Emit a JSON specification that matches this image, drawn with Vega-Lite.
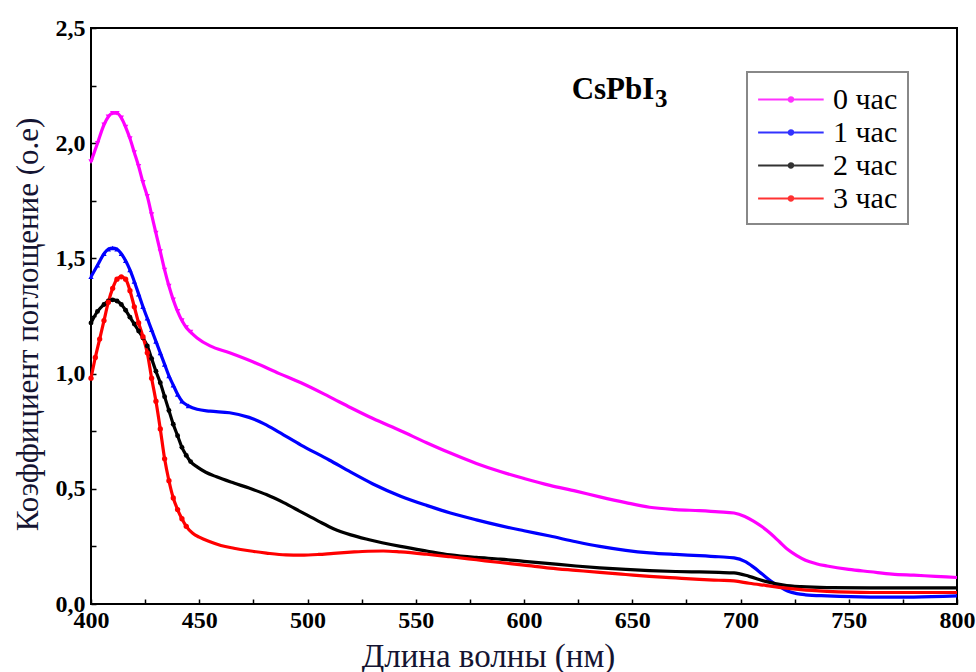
{
  "$schema": "https://vega.github.io/schema/vega-lite/v6.json",
  "width": 866,
  "height": 576,
  "autosize": {"type": "none"},
  "padding": {"left": 91, "top": 28, "right": 19, "bottom": 68},
  "background": "white",
  "config": {
    "view": {"stroke": "black", "strokeWidth": 2},
    "axis": {
      "domain": false,
      "grid": false,
      "tickColor": "black",
      "tickWidth": 1.5,
      "tickSize": -5,
      "labelFont": "Liberation Serif",
      "labelFontWeight": "bold",
      "labelFontSize": 24,
      "labelColor": "black",
      "titleFont": "Liberation Serif",
      "titleFontWeight": "normal"
    }
  },
  "datasets": {
    "curves": [
      {"x":400,"v":1.92,"s":"0 час"},{"x":403,"v":2.00,"s":"0 час"},{"x":406,"v":2.08,"s":"0 час"},{"x":408,"v":2.115,"s":"0 час"},{"x":410,"v":2.13,"s":"0 час"},{"x":412,"v":2.13,"s":"0 час"},{"x":414,"v":2.11,"s":"0 час"},{"x":416,"v":2.07,"s":"0 час"},{"x":418,"v":2.02,"s":"0 час"},{"x":420,"v":1.96,"s":"0 час"},{"x":422,"v":1.90,"s":"0 час"},{"x":424,"v":1.83,"s":"0 час"},{"x":426,"v":1.77,"s":"0 час"},{"x":428,"v":1.69,"s":"0 час"},{"x":430,"v":1.61,"s":"0 час"},{"x":432,"v":1.53,"s":"0 час"},{"x":434,"v":1.45,"s":"0 час"},{"x":436,"v":1.38,"s":"0 час"},{"x":438,"v":1.32,"s":"0 час"},{"x":440,"v":1.27,"s":"0 час"},{"x":442,"v":1.23,"s":"0 час"},{"x":444,"v":1.20,"s":"0 час"},{"x":446,"v":1.18,"s":"0 час"},{"x":449,"v":1.155,"s":"0 час"},{"x":455,"v":1.12,"s":"0 час"},{"x":464,"v":1.09,"s":"0 час"},{"x":475,"v":1.05,"s":"0 час"},{"x":487,"v":1.00,"s":"0 час"},{"x":497,"v":0.96,"s":"0 час"},{"x":510,"v":0.90,"s":"0 час"},{"x":520,"v":0.852,"s":"0 час"},{"x":530,"v":0.806,"s":"0 час"},{"x":543,"v":0.752,"s":"0 час"},{"x":555,"v":0.70,"s":"0 час"},{"x":566,"v":0.655,"s":"0 час"},{"x":578,"v":0.61,"s":"0 час"},{"x":589,"v":0.575,"s":"0 час"},{"x":600,"v":0.545,"s":"0 час"},{"x":612,"v":0.515,"s":"0 час"},{"x":624,"v":0.49,"s":"0 час"},{"x":635,"v":0.465,"s":"0 час"},{"x":647,"v":0.44,"s":"0 час"},{"x":658,"v":0.42,"s":"0 час"},{"x":670,"v":0.41,"s":"0 час"},{"x":681,"v":0.405,"s":"0 час"},{"x":690,"v":0.40,"s":"0 час"},{"x":697,"v":0.395,"s":"0 час"},{"x":702,"v":0.38,"s":"0 час"},{"x":706,"v":0.36,"s":"0 час"},{"x":710,"v":0.335,"s":"0 час"},{"x":714,"v":0.305,"s":"0 час"},{"x":718,"v":0.27,"s":"0 час"},{"x":722,"v":0.235,"s":"0 час"},{"x":726,"v":0.21,"s":"0 час"},{"x":730,"v":0.19,"s":"0 час"},{"x":735,"v":0.175,"s":"0 час"},{"x":740,"v":0.165,"s":"0 час"},{"x":750,"v":0.15,"s":"0 час"},{"x":760,"v":0.14,"s":"0 час"},{"x":770,"v":0.13,"s":"0 час"},{"x":780,"v":0.125,"s":"0 час"},{"x":790,"v":0.12,"s":"0 час"},{"x":800,"v":0.115,"s":"0 час"},

      {"x":400,"v":1.42,"s":"1 час"},{"x":403,"v":1.47,"s":"1 час"},{"x":406,"v":1.52,"s":"1 час"},{"x":408,"v":1.54,"s":"1 час"},{"x":410,"v":1.545,"s":"1 час"},{"x":412,"v":1.54,"s":"1 час"},{"x":414,"v":1.52,"s":"1 час"},{"x":416,"v":1.49,"s":"1 час"},{"x":418,"v":1.45,"s":"1 час"},{"x":420,"v":1.40,"s":"1 час"},{"x":422,"v":1.345,"s":"1 час"},{"x":424,"v":1.29,"s":"1 час"},{"x":426,"v":1.24,"s":"1 час"},{"x":428,"v":1.19,"s":"1 час"},{"x":430,"v":1.14,"s":"1 час"},{"x":432,"v":1.09,"s":"1 час"},{"x":434,"v":1.04,"s":"1 час"},{"x":436,"v":0.99,"s":"1 час"},{"x":438,"v":0.95,"s":"1 час"},{"x":440,"v":0.91,"s":"1 час"},{"x":442,"v":0.88,"s":"1 час"},{"x":445,"v":0.86,"s":"1 час"},{"x":449,"v":0.845,"s":"1 час"},{"x":455,"v":0.837,"s":"1 час"},{"x":464,"v":0.83,"s":"1 час"},{"x":473,"v":0.81,"s":"1 час"},{"x":480,"v":0.782,"s":"1 час"},{"x":487,"v":0.745,"s":"1 час"},{"x":497,"v":0.69,"s":"1 час"},{"x":510,"v":0.625,"s":"1 час"},{"x":520,"v":0.572,"s":"1 час"},{"x":530,"v":0.522,"s":"1 час"},{"x":543,"v":0.468,"s":"1 час"},{"x":555,"v":0.428,"s":"1 час"},{"x":566,"v":0.395,"s":"1 час"},{"x":578,"v":0.365,"s":"1 час"},{"x":589,"v":0.34,"s":"1 час"},{"x":600,"v":0.318,"s":"1 час"},{"x":612,"v":0.295,"s":"1 час"},{"x":624,"v":0.27,"s":"1 час"},{"x":635,"v":0.25,"s":"1 час"},{"x":647,"v":0.233,"s":"1 час"},{"x":658,"v":0.222,"s":"1 час"},{"x":670,"v":0.215,"s":"1 час"},{"x":681,"v":0.21,"s":"1 час"},{"x":690,"v":0.205,"s":"1 час"},{"x":697,"v":0.20,"s":"1 час"},{"x":702,"v":0.185,"s":"1 час"},{"x":706,"v":0.16,"s":"1 час"},{"x":710,"v":0.13,"s":"1 час"},{"x":714,"v":0.10,"s":"1 час"},{"x":718,"v":0.075,"s":"1 час"},{"x":722,"v":0.055,"s":"1 час"},{"x":726,"v":0.045,"s":"1 час"},{"x":730,"v":0.04,"s":"1 час"},{"x":740,"v":0.035,"s":"1 час"},{"x":760,"v":0.03,"s":"1 час"},{"x":780,"v":0.03,"s":"1 час"},{"x":800,"v":0.035,"s":"1 час"},

      {"x":400,"v":1.22,"s":"2 час"},{"x":403,"v":1.27,"s":"2 час"},{"x":406,"v":1.30,"s":"2 час"},{"x":408,"v":1.315,"s":"2 час"},{"x":410,"v":1.32,"s":"2 час"},{"x":412,"v":1.315,"s":"2 час"},{"x":414,"v":1.30,"s":"2 час"},{"x":416,"v":1.275,"s":"2 час"},{"x":418,"v":1.245,"s":"2 час"},{"x":420,"v":1.215,"s":"2 час"},{"x":422,"v":1.185,"s":"2 час"},{"x":424,"v":1.155,"s":"2 час"},{"x":426,"v":1.12,"s":"2 час"},{"x":428,"v":1.065,"s":"2 час"},{"x":430,"v":1.01,"s":"2 час"},{"x":432,"v":0.96,"s":"2 час"},{"x":434,"v":0.90,"s":"2 час"},{"x":436,"v":0.84,"s":"2 час"},{"x":438,"v":0.78,"s":"2 час"},{"x":440,"v":0.73,"s":"2 час"},{"x":442,"v":0.68,"s":"2 час"},{"x":444,"v":0.645,"s":"2 час"},{"x":446,"v":0.618,"s":"2 час"},{"x":449,"v":0.595,"s":"2 час"},{"x":453,"v":0.572,"s":"2 час"},{"x":458,"v":0.552,"s":"2 час"},{"x":466,"v":0.525,"s":"2 час"},{"x":473,"v":0.503,"s":"2 час"},{"x":481,"v":0.475,"s":"2 час"},{"x":489,"v":0.44,"s":"2 час"},{"x":497,"v":0.40,"s":"2 час"},{"x":505,"v":0.36,"s":"2 час"},{"x":512,"v":0.327,"s":"2 час"},{"x":520,"v":0.30,"s":"2 час"},{"x":528,"v":0.28,"s":"2 час"},{"x":543,"v":0.25,"s":"2 час"},{"x":555,"v":0.23,"s":"2 час"},{"x":566,"v":0.213,"s":"2 час"},{"x":578,"v":0.202,"s":"2 час"},{"x":589,"v":0.195,"s":"2 час"},{"x":600,"v":0.185,"s":"2 час"},{"x":612,"v":0.175,"s":"2 час"},{"x":624,"v":0.165,"s":"2 час"},{"x":635,"v":0.157,"s":"2 час"},{"x":647,"v":0.15,"s":"2 час"},{"x":658,"v":0.145,"s":"2 час"},{"x":670,"v":0.141,"s":"2 час"},{"x":681,"v":0.139,"s":"2 час"},{"x":690,"v":0.137,"s":"2 час"},{"x":697,"v":0.135,"s":"2 час"},{"x":704,"v":0.12,"s":"2 час"},{"x":712,"v":0.097,"s":"2 час"},{"x":720,"v":0.082,"s":"2 час"},{"x":728,"v":0.075,"s":"2 час"},{"x":740,"v":0.071,"s":"2 час"},{"x":760,"v":0.07,"s":"2 час"},{"x":780,"v":0.07,"s":"2 час"},{"x":800,"v":0.07,"s":"2 час"},

      {"x":400,"v":0.98,"s":"3 час"},{"x":402,"v":1.07,"s":"3 час"},{"x":404,"v":1.15,"s":"3 час"},{"x":406,"v":1.23,"s":"3 час"},{"x":408,"v":1.31,"s":"3 час"},{"x":410,"v":1.37,"s":"3 час"},{"x":412,"v":1.41,"s":"3 час"},{"x":414,"v":1.42,"s":"3 час"},{"x":416,"v":1.41,"s":"3 час"},{"x":418,"v":1.36,"s":"3 час"},{"x":420,"v":1.29,"s":"3 час"},{"x":422,"v":1.22,"s":"3 час"},{"x":424,"v":1.16,"s":"3 час"},{"x":426,"v":1.09,"s":"3 час"},{"x":428,"v":0.98,"s":"3 час"},{"x":430,"v":0.88,"s":"3 час"},{"x":432,"v":0.76,"s":"3 час"},{"x":434,"v":0.63,"s":"3 час"},{"x":436,"v":0.535,"s":"3 час"},{"x":438,"v":0.46,"s":"3 час"},{"x":440,"v":0.41,"s":"3 час"},{"x":442,"v":0.37,"s":"3 час"},{"x":444,"v":0.337,"s":"3 час"},{"x":447,"v":0.307,"s":"3 час"},{"x":450,"v":0.29,"s":"3 час"},{"x":455,"v":0.27,"s":"3 час"},{"x":460,"v":0.254,"s":"3 час"},{"x":466,"v":0.242,"s":"3 час"},{"x":473,"v":0.231,"s":"3 час"},{"x":481,"v":0.221,"s":"3 час"},{"x":490,"v":0.213,"s":"3 час"},{"x":497,"v":0.212,"s":"3 час"},{"x":505,"v":0.215,"s":"3 час"},{"x":512,"v":0.22,"s":"3 час"},{"x":520,"v":0.225,"s":"3 час"},{"x":528,"v":0.229,"s":"3 час"},{"x":535,"v":0.23,"s":"3 час"},{"x":543,"v":0.226,"s":"3 час"},{"x":555,"v":0.216,"s":"3 час"},{"x":566,"v":0.205,"s":"3 час"},{"x":578,"v":0.192,"s":"3 час"},{"x":589,"v":0.18,"s":"3 час"},{"x":600,"v":0.169,"s":"3 час"},{"x":612,"v":0.156,"s":"3 час"},{"x":624,"v":0.146,"s":"3 час"},{"x":635,"v":0.137,"s":"3 час"},{"x":647,"v":0.128,"s":"3 час"},{"x":658,"v":0.12,"s":"3 час"},{"x":670,"v":0.113,"s":"3 час"},{"x":681,"v":0.107,"s":"3 час"},{"x":690,"v":0.103,"s":"3 час"},{"x":697,"v":0.10,"s":"3 час"},{"x":704,"v":0.09,"s":"3 час"},{"x":712,"v":0.08,"s":"3 час"},{"x":720,"v":0.07,"s":"3 час"},{"x":728,"v":0.062,"s":"3 час"},{"x":740,"v":0.055,"s":"3 час"},{"x":760,"v":0.05,"s":"3 час"},{"x":780,"v":0.05,"s":"3 час"},{"x":800,"v":0.05,"s":"3 час"}
    ]
  },
  "layer": [
    {
      "data": {"name": "curves"},
      "mark": {"type": "line", "strokeWidth": 3.2, "interpolate": "monotone"},
      "encoding": {
        "x": {
          "field": "x", "type": "quantitative",
          "scale": {"domain": [400, 800], "nice": false, "zero": false},
          "axis": {
            "values": [400,425,450,475,500,525,550,575,600,625,650,675,700,725,750,775,800],
            "labelExpr": "datum.value % 50 == 0 ? format(datum.value, 'd') : ''",
            "labelPadding": 9,
            "labelFlush": false,
            "title": "Длина волны (нм)",
            "titleFontSize": 33,
            "titleX": 397,
            "titleY": 62,
            "titleBaseline": "alphabetic",
            "titleAlign": "center",
            "titleColor": "#141432"
          }
        },
        "y": {
          "field": "v", "type": "quantitative",
          "scale": {"domain": [0, 2.5], "nice": false},
          "axis": {
            "values": [0,0.25,0.5,0.75,1,1.25,1.5,1.75,2,2.25,2.5],
            "labelExpr": "abs(datum.value*2 - round(datum.value*2)) < 0.001 ? replace(format(datum.value, '.1f'), '.', ',') : ''",
            "labelPadding": 11,
            "labelFlush": false,
            "title": "Коэффициент поглощение (о.е)",
            "titleFontSize": 31,
            "titleX": -63,
            "titleY": 296,
            "titleAngle": 270,
            "titleAlign": "center",
            "titleBaseline": "middle",
            "titleColor": "#141432"
          }
        },
        "color": {
          "field": "s", "type": "nominal",
          "scale": {"domain": ["0 час","1 час","2 час","3 час"], "range": ["#ff00ff","#0000ff","#000000","#ff0000"]},
          "legend": {
            "title": null,
            "orient": "none",
            "legendX": 656,
            "legendY": 44,
            "padding": 10,
            "strokeColor": "#888888",
            "fillColor": "white",
            "rowPadding": 0,
            "symbolType": "M-1,0H3M0.86,0A0.14,0.14,0,1,1,1.14,0A0.14,0.14,0,1,1,0.86,0",
            "symbolSize": 1075,
            "symbolStrokeWidth": 2,
            "symbolOpacity": 0.8,
            "labelOffset": 41,
            "labelFont": "Liberation Serif",
            "labelFontSize": 30,
            "labelColor": "black",
            "encode": {
              "legend": {"update": {"strokeWidth": {"value": 2}}},
              "symbols": {"update": {
                "fill": {"scale": "color", "field": "value"}
              }}
            }
          }
        }
      }
    },
    {
      "data": {"name": "curves"},
      "transform": [{"filter": "datum.x <= 446 && datum.s == '0 час'"}],
      "mark": {"type": "point", "filled": true, "size": 28, "opacity": 1, "shape": "triangle-down", "color": "#ff00ff"},
      "encoding": {
        "x": {"field": "x", "type": "quantitative"},
        "y": {"field": "v", "type": "quantitative"}
      }
    },
    {
      "data": {"name": "curves"},
      "transform": [{"filter": "datum.x <= 446 && datum.s == '1 час'"}],
      "mark": {"type": "point", "filled": true, "size": 28, "opacity": 1, "shape": "triangle-up", "color": "#0000ff"},
      "encoding": {
        "x": {"field": "x", "type": "quantitative"},
        "y": {"field": "v", "type": "quantitative"}
      }
    },
    {
      "data": {"name": "curves"},
      "transform": [{"filter": "datum.x <= 446 && datum.s == '2 час'"}],
      "mark": {"type": "point", "filled": true, "size": 24, "opacity": 1, "shape": "circle", "color": "#000000"},
      "encoding": {
        "x": {"field": "x", "type": "quantitative"},
        "y": {"field": "v", "type": "quantitative"}
      }
    },
    {
      "data": {"name": "curves"},
      "transform": [{"filter": "datum.x <= 446 && datum.s == '3 час'"}],
      "mark": {"type": "point", "filled": true, "size": 28, "opacity": 1, "shape": "circle", "color": "#ff0000"},
      "encoding": {
        "x": {"field": "x", "type": "quantitative"},
        "y": {"field": "v", "type": "quantitative"}
      }
    },
    {
      "data": {"values": [{"x": 622, "v": 2.23, "t": "CsPbI"}]},
      "mark": {"type": "text", "align": "left", "baseline": "middle", "font": "Liberation Serif", "fontWeight": "bold", "fontSize": 31, "color": "black"},
      "encoding": {
        "x": {"field": "x", "type": "quantitative"},
        "y": {"field": "v", "type": "quantitative"},
        "text": {"field": "t"}
      }
    },
    {
      "data": {"values": [{"x": 660.5, "v": 2.19, "t": "3"}]},
      "mark": {"type": "text", "align": "left", "baseline": "middle", "font": "Liberation Serif", "fontWeight": "bold", "fontSize": 25, "color": "black"},
      "encoding": {
        "x": {"field": "x", "type": "quantitative"},
        "y": {"field": "v", "type": "quantitative"},
        "text": {"field": "t"}
      }
    }
  ]
}
